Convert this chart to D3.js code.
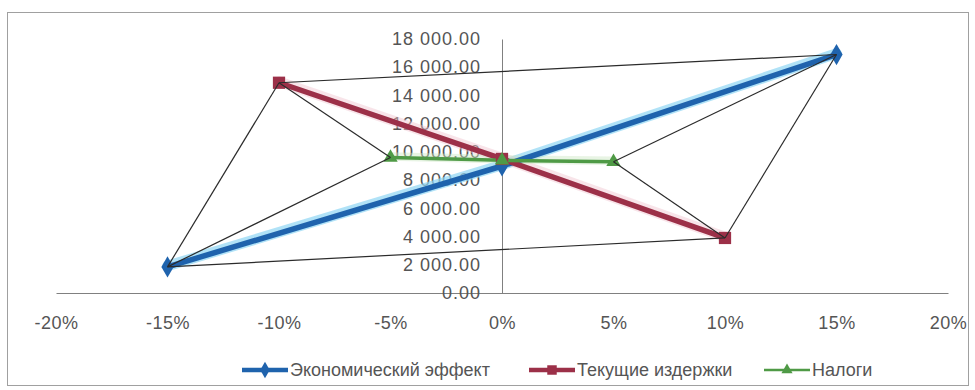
<!DOCTYPE html>
<html>
<head>
<meta charset="utf-8">
<script src="https://cdn.jsdelivr.net/npm/d3@7"></script>
<style>
  html, body { margin: 0; padding: 0; background: #fff; }
  svg { display: block; }
  text { font-family: "Liberation Sans Narrow", "Liberation Sans", Arial, sans-serif; fill: #555; }
</style>
</head>
<body>
<svg id="chart" width="975" height="390"></svg>
<script>
// Sensitivity of indicators to a change of the factor (−20% … +20%)
const xTicks = [-0.20, -0.15, -0.10, -0.05, 0, 0.05, 0.10, 0.15, 0.20];
const yTicks = [0, 2000, 4000, 6000, 8000, 10000, 12000, 14000, 16000, 18000];

const seriesNames = ["Экономический эффект", "Текущие издержки", "Налоги"];
const econX = [-0.15, 0, 0.15];
const econY = [1850, 9000, 16900];
const costX = [-0.10, 0, 0.10];
const costY = [14900, 9500, 3900];
const taxX = [-0.05, 0, 0.05];
const taxY = [9600, 9400, 9300];

// Thin construction lines joining the end points of the series: [series, point, series, point]
const links = [
  [0, 0, 1, 0], [1, 0, 0, 2], [0, 2, 1, 2], [1, 2, 0, 0],
  [1, 0, 2, 0], [2, 0, 0, 0], [0, 2, 2, 2], [2, 2, 1, 2]
];

const svg = d3.select("#chart");

const x = d3.scaleLinear().domain([-0.20, 0.20]).range([56, 948]);
const y = d3.scaleLinear().domain([0, 18000]).range([293, 39]);

const fmtY = v => d3.format(",.2f")(v).replace(/,/g, " ");
const fmtX = v => d3.format(".0%")(v).replace("\u2212", "-");

// outer chart frame
svg.append("rect")
  .attr("x", 7.5).attr("y", 12.5).attr("width", 961).attr("height", 373)
  .attr("fill", "#fff").attr("stroke", "#a0a0a0").attr("stroke-width", 1);

// horizontal axis through y = 0
const xAxis = d3.axisBottom(x).tickValues(xTicks).tickSize(0).tickFormat(fmtX);
const gx = svg.append("g").attr("transform", `translate(0,${y(0)})`).call(xAxis);
gx.select(".domain").attr("stroke", "#808080");
gx.selectAll("text").attr("y", 30).attr("dy", "0.35em")
  .style("font-size", "18px").style("letter-spacing", "0.5px");

// vertical axis through x = 0
const yAxis = d3.axisLeft(y).tickValues(yTicks).tickSize(0).tickFormat(fmtY);
const gy = svg.append("g").attr("transform", `translate(${x(0)},0)`).call(yAxis);
gy.select(".domain").attr("stroke", "#808080");
gy.selectAll("text").attr("x", -21)
  .style("font-size", "18px").style("letter-spacing", "1px");

const seriesX = [econX, costX, taxX];
const seriesY = [econY, costY, taxY];
const colors = ["#1f63ad", "#9c3048", "#4f9a46"];
const widths = [5.5, 5.5, 3.5];
const glow = ["#8fd6f4", "#f0c4cf", "#cde6c4"];

const pts = seriesX.map((xs, i) => xs.map((v, j) => [x(v), y(seriesY[i][j])]));
const line = d3.line();

// soft glow beneath the series lines
pts.forEach((p, i) => {
  svg.append("path").attr("d", line(p)).attr("fill", "none")
    .attr("stroke", glow[i]).attr("stroke-width", widths[i] + 5)
    .attr("stroke-opacity", i === 0 ? 0.7 : 0.45).attr("stroke-linecap", "round")
    .attr("transform", "translate(0,-1)");
});
pts.forEach((p, i) => {
  svg.append("path").attr("d", line(p)).attr("fill", "none")
    .attr("stroke", colors[i]).attr("stroke-width", widths[i])
    .attr("stroke-linecap", "round").attr("stroke-linejoin", "round");
});

const symbols = [d3.symbolDiamond, d3.symbolSquare, d3.symbolTriangle];
const sizes = [130, 150, 90];
pts.forEach((p, i) => {
  svg.append("g").selectAll("path").data(p).join("path")
    .attr("transform", d => `translate(${d[0]},${d[1]})`)
    .attr("d", d3.symbol(symbols[i], sizes[i]))
    .attr("fill", colors[i]);
});

// construction lines
svg.append("g").selectAll("line").data(links).join("line")
  .attr("x1", d => pts[d[0]][d[1]][0]).attr("y1", d => pts[d[0]][d[1]][1])
  .attr("x2", d => pts[d[2]][d[3]][0]).attr("y2", d => pts[d[2]][d[3]][1])
  .attr("stroke", "#2b2b2b").attr("stroke-width", 1.2);

// legend
const legendX = [242, 529, 764];
const lg = svg.append("g").attr("transform", "translate(0,370)");
seriesNames.forEach((name, i) => {
  const g = lg.append("g").attr("transform", `translate(${legendX[i]},0)`);
  g.append("line").attr("x1", 0).attr("x2", 46).attr("y1", 0).attr("y2", 0)
    .attr("stroke", colors[i]).attr("stroke-width", widths[i] - 1);
  g.append("path").attr("transform", "translate(23,0)")
    .attr("d", d3.symbol(symbols[i], sizes[i] * 0.6)).attr("fill", colors[i]);
  g.append("text").attr("x", 48).attr("y", 0).attr("dy", "0.35em")
    .style("font-size", "18px").text(name);
});
</script>
</body>
</html>
